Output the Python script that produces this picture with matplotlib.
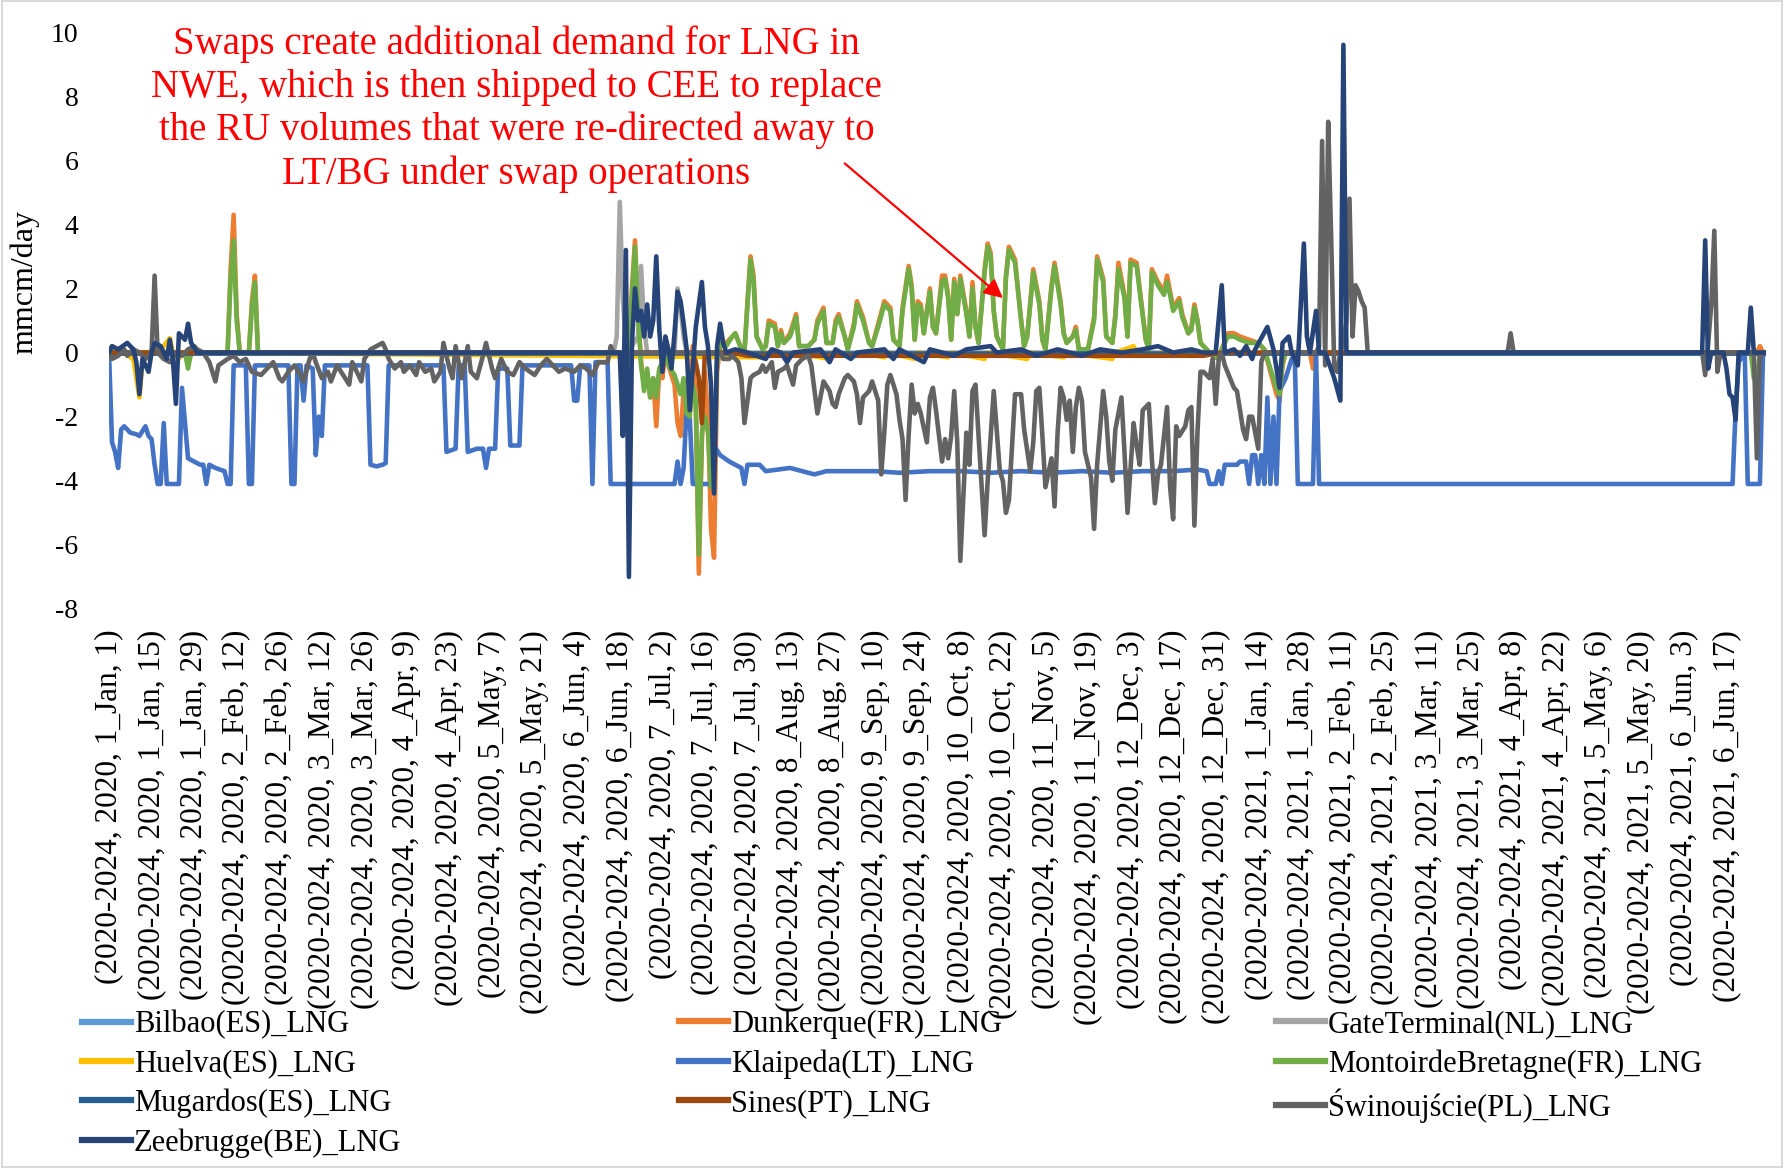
import numpy as np
import pandas as pd
import matplotlib
matplotlib.use('Agg')
import matplotlib.pyplot as plt
from matplotlib.lines import Line2D
from matplotlib.patches import Rectangle

# daily index: 0 = 1 Jan 2020 ... 545 = 30 Jun 2021 (29 Feb is missing in the source)
DATES = pd.date_range('2020-01-01', '2021-06-30')
DATES = DATES[~((DATES.month == 2) & (DATES.day == 29))]
TICK_STEP = 14

# (day index, mmcm/day)
BILBAO = [(0, 0), (545, 0)]
MUGARDOS = [(0, 0), (545, 0)]

DUNKERQUE = [(0, 0), (25, 0), (26, -0.4), (27, 0), (39, 0), (40, 2.6), (41, 4.3), (42, 1.2), (43, 0), (46, 0),
             (47, 1.6), (48, 2.4), (49, 0), (170, 0), (171, -0.3), (172, 2.0), (173, 3.5), (174, 1.3), (175, -0.3),
             (176, -1.0), (177, -0.6), (178, -1.4), (179, -0.8), (180, -2.3), (181, -0.5), (182, -0.8), (183, 0),
             (184, -0.4), (186, -1.0), (187, -2.2), (188, -2.6), (189, -1.2), (190, -2.0), (192, 0.2), (193, -1.7),
             (194, -6.9), (195, -2.8), (196, -0.6), (197, -2.0), (198, -5.5), (199, -6.4), (200, -0.6), (201, 0.2),
             (203, 0.3), (205, 0.5), (206, 0.6), (208, 0.1), (209, 0), (210, 1.6), (211, 3.0), (212, 2.4),
             (213, 0.5), (215, 0.1), (216, 0.2), (217, 1.0), (219, 0.9), (220, 0.2), (221, 0.7), (222, 0.3),
             (224, 0.6), (226, 1.2), (227, 0.2), (230, 0.2), (232, 0.4), (233, 1.0), (235, 1.4), (236, 0.3),
             (238, 0.3), (239, 1.0), (240, 1.2), (242, 0.5), (243, 0.1), (245, 0.9), (246, 1.6), (248, 1.1),
             (250, 0.3), (251, 0.2), (253, 0.9), (255, 1.6), (257, 1.4), (258, 0.4), (260, 0.2), (261, 1.4),
             (263, 2.7), (264, 2.1), (265, 0.4), (266, 1.6), (267, 1.5), (268, 0.6), (270, 2.0), (271, 0.8),
             (272, 0.6), (274, 2.4), (275, 2.4), (276, 1.8), (277, 0.4), (278, 2.3), (279, 1.2), (280, 2.4),
             (282, 1.3), (283, 0.5), (284, 2.2), (285, 0.8), (286, 0.3), (288, 2.6), (289, 3.4), (290, 3.1),
             (291, 1.3), (292, 0.5), (294, 0.1), (295, 2.4), (296, 3.3), (298, 2.9), (300, 1.0), (301, 0.2),
             (302, 0.5), (304, 2.6), (306, 1.6), (307, 0.4), (308, 0.1), (310, 2.1), (311, 2.8), (313, 1.6),
             (314, 0.6), (315, 0.3), (317, 0.5), (318, 0.8), (319, 0.1), (322, 0.1), (324, 1.1), (325, 3.0),
             (327, 2.3), (328, 0.5), (330, 0.3), (331, 1.2), (332, 2.8), (334, 1.8), (335, 0.5), (336, 2.9),
             (338, 2.8), (339, 2.0), (341, 0.4), (342, 0.1), (343, 2.6), (345, 2.2), (347, 1.9), (348, 2.4),
             (349, 1.9), (350, 1.4), (352, 1.7), (353, 1.2), (355, 0.6), (356, 0.8), (357, 1.5), (358, 1.0),
             (359, 0.3), (361, 0.1), (363, -0.1), (365, -0.2), (366, 0.1), (368, 0.6), (370, 0.6), (372, 0.5),
             (375, 0.4), (378, 0.3), (380, 0.1), (382, -0.6), (384, -1.3), (385, -1.5), (386, -0.4), (387, 0),
             (395, 0), (396, -0.5), (397, 0), (542, 0), (543, 0.2), (544, 0), (545, 0)]

GATE = [(0, 0), (166, 0), (167, 0.5), (168, 4.7), (169, 1.7), (170, 0.3), (171, 1.0), (172, 0.2), (174, 0.5),
        (175, 2.7), (176, 0.8), (177, 0), (186, 0), (187, 2.0), (188, 1.4), (189, 0.5), (190, 0), (545, 0)]

HUELVA = [(0, 0), (1, 0.2), (3, 0.1), (8, -0.2), (9, -0.8), (10, -1.4), (11, -0.3), (13, 0), (18, 0.2),
          (20, 0.45), (21, 0), (23, -0.2), (24, 0), (215, -0.15), (216, 0), (224, -0.15), (225, 0), (237, -0.2),
          (238, 0), (246, -0.1), (247, 0), (255, -0.15), (256, 0), (265, -0.2), (266, 0), (276, -0.15), (277, 0),
          (288, -0.2), (289, 0), (302, -0.2), (303, 0), (314, -0.15), (315, 0), (330, -0.2), (331, 0),
          (337, 0.2), (338, 0), (345, -0.1), (346, 0), (545, 0)]

KLAIPEDA = [(0, 0), (1, -2.8), (2, -3.1), (3, -3.6), (4, -2.4), (5, -2.3), (7, -2.5), (9, -2.55), (10, -2.6),
            (12, -2.3), (13, -2.6), (14, -2.7), (15, -3.5), (16, -4.1), (17, -4.1), (18, -2.2), (19, -4.1),
            (23, -4.1), (24, -1.1), (25, -2.2), (26, -3.3), (28, -3.4), (30, -3.5), (31, -3.5), (32, -4.1),
            (33, -3.5), (35, -3.6), (38, -3.7), (39, -4.1), (40, -4.1), (41, -0.4), (45, -0.4), (46, -4.1),
            (47, -4.1), (48, -0.4), (59, -0.4), (60, -4.1), (61, -4.1), (62, -0.4), (63, -0.4), (64, -1.5),
            (65, -0.4), (67, -0.5), (68, -3.2), (69, -2.0), (70, -2.6), (71, -0.4), (85, -0.4), (86, -3.5),
            (88, -3.55), (90, -3.5), (91, -3.45), (92, -0.4), (110, -0.4), (111, -3.1), (114, -3.0), (115, -0.4),
            (117, -0.4), (118, -3.1), (121, -3.0), (123, -3.0), (124, -3.6), (125, -3.0), (127, -3.0),
            (128, -0.5), (131, -0.5), (132, -2.9), (135, -2.9), (136, -0.4), (152, -0.4), (153, -1.5),
            (154, -1.5), (155, -0.4), (158, -0.4), (159, -4.1), (160, -0.3), (164, -0.3), (165, -4.1),
            (186, -4.1), (187, -3.4), (188, -4.1), (189, -3.6), (190, -1.7), (191, -2.0), (192, -4.1),
            (198, -4.1), (199, -2.9), (201, -3.2), (204, -3.4), (206, -3.5), (208, -3.6), (209, -4.1),
            (210, -3.5), (214, -3.5), (216, -3.7), (220, -3.65), (224, -3.6), (228, -3.7), (232, -3.8),
            (236, -3.7), (244, -3.7), (252, -3.7), (260, -3.75), (270, -3.7), (280, -3.7), (290, -3.75),
            (300, -3.7), (310, -3.75), (320, -3.7), (330, -3.75), (340, -3.7), (350, -3.7), (358, -3.65),
            (361, -3.7), (362, -4.1), (364, -4.1), (365, -3.7), (366, -4.1), (367, -3.5), (371, -3.5),
            (372, -3.4), (374, -3.4), (375, -4.1), (376, -3.2), (377, -3.2), (378, -4.1), (379, -3.2),
            (380, -4.1), (381, -1.4), (382, -4.1), (383, -2.0), (384, -4.1), (385, -1.2), (387, -0.8),
            (389, -0.2), (390, -0.1), (391, -4.1), (396, -4.1), (397, 0), (398, -4.1), (534, -4.1),
            (535, -1.8), (536, -0.3), (538, 0), (539, -4.1), (543, -4.1), (544, -0.1), (545, 0)]

MONTOIR = [(0, 0), (25, 0), (26, -0.5), (27, 0), (39, 0), (40, 2.3), (41, 3.5), (42, 1.0), (43, 0), (46, 0),
           (47, 1.4), (48, 2.2), (49, 0), (170, 0), (171, -0.3), (172, 1.8), (173, 3.3), (174, 1.2), (175, -0.4),
           (176, -1.2), (177, -0.5), (178, -1.4), (179, -0.8), (180, -1.4), (181, -0.5), (182, -0.3), (183, 0),
           (184, -0.4), (186, -0.7), (187, -1.0), (188, -1.3), (189, -0.8), (190, -1.9), (191, -2.0), (192, -1.0),
           (193, -1.5), (194, -6.3), (195, -2.5), (196, -2.0), (197, -2.5), (198, -4.2), (199, -3.0), (200, -0.3),
           (201, 0.3), (203, 0.2), (205, 0.5), (206, 0.6), (208, 0.1), (209, 0), (210, 1.5), (211, 2.9),
           (212, 2.2), (213, 0.5), (215, 0.1), (216, 0.2), (217, 0.9), (219, 0.8), (220, 0.2), (221, 0.6),
           (222, 0.3), (224, 0.5), (226, 1.1), (227, 0.2), (230, 0.2), (232, 0.4), (233, 0.9), (235, 1.3),
           (236, 0.3), (238, 0.3), (239, 0.9), (240, 1.1), (242, 0.5), (243, 0.1), (245, 0.8), (246, 1.5),
           (248, 1.0), (250, 0.3), (251, 0.2), (253, 0.8), (255, 1.5), (257, 1.3), (258, 0.4), (260, 0.2),
           (261, 1.3), (263, 2.6), (264, 2.0), (265, 0.4), (266, 1.5), (267, 1.4), (268, 0.6), (270, 1.9),
           (271, 0.8), (272, 0.6), (274, 2.2), (275, 2.3), (276, 1.7), (277, 0.4), (278, 2.2), (279, 1.2),
           (280, 2.3), (282, 1.2), (283, 0.5), (284, 2.0), (285, 0.8), (286, 0.3), (288, 2.5), (289, 3.3),
           (290, 3.0), (291, 1.3), (292, 0.5), (294, 0.1), (295, 2.3), (296, 3.2), (298, 2.8), (300, 1.0),
           (301, 0.2), (302, 0.5), (304, 2.5), (306, 1.5), (307, 0.4), (308, 0.1), (310, 2.0), (311, 2.7),
           (313, 1.5), (314, 0.6), (315, 0.3), (317, 0.5), (318, 0.7), (319, 0.1), (322, 0.1), (324, 1.0),
           (325, 2.9), (327, 2.2), (328, 0.5), (330, 0.3), (331, 1.1), (332, 2.6), (334, 1.7), (335, 0.5),
           (336, 2.8), (338, 2.7), (339, 1.9), (341, 0.4), (342, 0.1), (343, 2.5), (345, 2.1), (347, 1.8),
           (348, 2.2), (349, 1.8), (350, 1.3), (352, 1.6), (353, 1.1), (355, 0.6), (356, 0.7), (357, 1.4),
           (358, 1.0), (359, 0.3), (361, 0.1), (363, -0.1), (365, -0.2), (366, 0.1), (368, 0.5), (370, 0.5),
           (372, 0.4), (375, 0.3), (378, 0.3), (380, 0.1), (382, -0.5), (384, -1.1), (385, -1.3), (386, -0.3),
           (387, 0), (540, 0), (541, -0.8), (542, -0.8), (543, 0), (545, 0)]

SINES = [(0, 0), (192, 0), (193, -0.3), (194, -0.8), (195, -2.2), (196, 0), (205, 0), (210, -0.1), (360, -0.1),
         (366, 0), (545, 0)]

SWINOUJSCIE = [(0, 0), (1, -0.2), (3, -0.1), (5, 0.1), (6, -0.1), (8, 0.1), (10, 0), (12, -0.2), (14, 0),
               (15, 2.4), (16, 0), (18, -0.2), (20, -0.3), (22, 0), (24, -0.1), (26, 0.1), (28, 0.2), (29, 0.1),
               (31, 0), (33, -0.3), (35, -0.9), (36, -0.4), (39, -0.2), (41, -0.1), (43, -0.3), (45, -0.2),
               (47, -0.6), (50, -0.7), (52, -0.5), (54, -0.3), (56, -0.8), (57, -0.9), (59, -0.6), (61, -0.4),
               (63, -0.7), (64, -0.9), (66, -0.2), (67, 0.0), (68, -0.3), (70, -0.8), (72, -0.6), (73, -0.9),
               (75, -0.4), (77, -0.7), (79, -1.0), (80, -0.3), (82, -0.7), (83, -0.9), (84, -0.2), (86, 0.1),
               (88, 0.2), (90, 0.3), (91, 0.1), (92, -0.2), (94, -0.5), (96, -0.3), (97, -0.6), (99, -0.4),
               (101, -0.7), (102, -0.3), (104, -0.6), (106, -0.5), (107, -0.9), (109, -0.6), (110, 0.3),
               (112, -0.5), (113, -0.8), (114, 0.2), (116, -0.8), (118, 0.2), (119, -0.6), (121, -0.8),
               (123, -0.1), (124, 0.3), (126, -0.5), (127, -0.8), (129, -0.2), (131, -0.6), (133, -0.7),
               (135, -0.3), (137, -0.5), (140, -0.7), (142, -0.4), (144, -0.2), (146, -0.4), (148, -0.6),
               (150, -0.5), (153, -0.6), (155, -0.4), (157, -0.5), (159, -0.7), (161, -0.3), (164, -0.3),
               (165, 0.2), (166, 0), (201, 0), (202, -0.2), (204, -0.2), (205, -0.1), (207, -0.3), (208, -0.8),
               (209, -2.2), (211, -0.8), (212, -0.7), (214, -0.6), (215, -0.4), (216, -0.6), (218, -0.3),
               (219, -1.1), (220, -0.6), (222, -0.5), (223, -0.4), (225, -1.0), (226, -0.4), (228, -0.2),
               (230, -0.1), (231, -0.4), (233, -1.9), (235, -0.9), (237, -1.2), (238, -1.6), (239, -1.7),
               (240, -1.3), (242, -0.8), (243, -0.7), (245, -0.9), (246, -1.3), (247, -2.2), (248, -1.4),
               (250, -1.2), (251, -0.9), (253, -1.5), (254, -3.8), (255, -2.5), (256, -1.0), (257, -0.7),
               (259, -1.3), (260, -2.1), (261, -2.7), (262, -4.6), (263, -2.6), (264, -1.0), (265, -1.9),
               (266, -1.6), (267, -1.9), (269, -2.8), (270, -1.4), (271, -1.1), (272, -1.8), (273, -2.6),
               (274, -3.4), (275, -2.7), (276, -3.3), (277, -2.6), (278, -1.2), (279, -2.8), (280, -6.5),
               (282, -2.5), (283, -3.5), (284, -1.2), (285, -1.0), (286, -2.6), (288, -5.7), (289, -4.0),
               (291, -1.2), (293, -3.7), (294, -4.0), (295, -5.0), (296, -4.6), (298, -1.3), (300, -1.3),
               (301, -2.4), (303, -3.7), (304, -2.8), (305, -1.2), (306, -1.1), (307, -2.6), (308, -4.2),
               (310, -3.3), (311, -4.8), (312, -2.5), (313, -1.1), (314, -1.4), (315, -2.1), (316, -1.5),
               (317, -3.1), (318, -1.7), (319, -1.1), (320, -1.5), (321, -3.1), (323, -3.9), (324, -5.5),
               (325, -3.5), (327, -1.2), (328, -2.0), (329, -3.4), (330, -4.0), (331, -2.4), (333, -1.4),
               (334, -3.1), (335, -5.0), (336, -3.6), (337, -2.2), (338, -2.9), (339, -3.5), (340, -1.8),
               (342, -1.6), (343, -3.3), (344, -4.7), (345, -3.8), (346, -3.5), (348, -1.7), (349, -4.2),
               (350, -5.2), (351, -2.3), (352, -2.6), (354, -2.3), (355, -1.8), (356, -1.7), (357, -5.4),
               (358, -2.5), (359, -0.6), (360, -0.6), (362, -0.8), (363, -0.2), (364, -1.6), (365, -0.2),
               (366, 0), (367, -0.4), (370, -1.1), (371, -1.2), (373, -2.4), (374, -2.7), (375, -2.0),
               (376, -2.0), (378, -3.0), (379, -0.3), (380, 0), (397, 0), (398, 0.2), (399, 6.6), (400, -0.4),
               (401, 7.2), (402, 3.5), (403, -0.5), (404, -0.6), (405, 0), (406, 0.3), (407, 1.0), (408, 4.8),
               (409, 0.5), (410, 2.1), (411, 1.9), (412, 1.6), (413, 1.4), (414, 0), (460, 0), (461, 0.6),
               (462, 0), (524, 0), (525, -0.7), (526, 0.3), (527, 1.5), (528, 3.8), (529, -0.6), (530, 0),
               (541, 0), (542, -3.3), (543, -0.1), (545, 0)]

ZEEBRUGGE = [(0, 0), (1, 0.2), (3, 0.1), (6, 0.3), (8, 0.1), (9, -0.3), (10, -1.3), (11, -0.2), (13, -0.6),
             (14, 0), (15, 0.3), (17, 0.2), (19, -0.2), (20, 0.4), (21, -0.2), (22, -1.6), (23, 0.6), (25, 0.4),
             (26, 0.9), (27, 0.3), (29, 0), (168, 0), (169, -2.6), (170, 3.2), (171, -7.0), (172, 0.3),
             (173, 2.0), (174, 1.0), (175, 1.3), (176, 0.5), (177, 1.5), (178, 0.5), (179, 1.0), (180, 3.0),
             (181, 0.7), (182, -0.6), (183, 0.5), (184, 0.1), (185, -0.5), (186, 0.6), (187, 1.9), (188, 1.6),
             (189, 0.9), (190, 0.1), (191, -1.8), (192, -0.5), (193, 0.8), (195, 2.2), (196, 0.8), (197, 0.2),
             (198, -1.0), (199, -4.4), (200, 0.2), (201, 0.9), (202, 0.3), (203, 0), (206, 0.1), (210, 0),
             (216, -0.2), (218, 0.1), (221, 0), (223, -0.3), (225, 0), (234, 0.1), (237, -0.3), (239, 0.1),
             (244, -0.2), (246, 0), (255, 0.1), (258, -0.2), (260, 0.1), (268, -0.3), (270, 0.1), (278, -0.1),
             (282, 0.1), (290, 0.2), (292, 0), (300, 0.1), (305, -0.1), (312, 0.1), (320, -0.1), (326, 0.1),
             (333, 0), (340, 0.1), (345, 0.2), (350, 0), (356, 0.1), (360, 0), (364, 0), (366, 2.1), (367, 0),
             (370, 0.1), (372, -0.1), (374, 0.2), (376, -0.2), (377, 0.1), (381, 0.8), (383, 0.1), (385, -1.1),
             (386, 0.3), (388, 0.5), (389, 0), (391, -0.4), (393, 3.4), (394, 0.5), (395, 0), (397, 1.3),
             (398, 0), (400, 0), (403, -0.8), (405, -1.5), (406, 9.6), (407, 0), (524, 0), (525, 3.5),
             (526, -0.5), (527, 0), (531, 0), (532, -0.5), (533, -1.3), (534, -1.4), (535, -2.1), (536, 0),
             (539, 0), (540, 1.4), (541, 0), (545, 0)]

SERIES = [
    ('Bilbao(ES)_LNG', BILBAO, '#5B9BD5'),
    ('Dunkerque(FR)_LNG', DUNKERQUE, '#ED7D31'),
    ('GateTerminal(NL)_LNG', GATE, '#A5A5A5'),
    ('Huelva(ES)_LNG', HUELVA, '#FFC000'),
    ('Klaipeda(LT)_LNG', KLAIPEDA, '#4472C4'),
    ('MontoirdeBretagne(FR)_LNG', MONTOIR, '#70AD47'),
    ('Mugardos(ES)_LNG', MUGARDOS, '#255E91'),
    ('Sines(PT)_LNG', SINES, '#9E480E'),
    ('Świnoujście(PL)_LNG', SWINOUJSCIE, '#636363'),
    ('Zeebrugge(BE)_LNG', ZEEBRUGGE, '#264478'),
]

NOTE = ('Swaps create additional demand for LNG in\n'
        'NWE, which is then shipped to CEE to replace\n'
        'the RU volumes that were re-directed away to\n'
        'LT/BG under swap operations')

SERIF = ['Liberation Serif', 'DejaVu Serif']
plt.rcParams['font.family'] = SERIF
plt.rcParams['axes.unicode_minus'] = False

W, H = 1784, 1168
fig = plt.figure(figsize=(W / 100, H / 100), dpi=100)
fig.patch.set_facecolor('white')
ax = fig.add_axes([109 / W, 1 - 609 / H, (1766 - 109) / W, (609 - 32) / H])

LW = 3.3
handles = {}
for name, pts, color in SERIES:
    d, v = zip(*pts)
    ln, = ax.plot(d, v, color=color, lw=LW, solid_joinstyle='round', solid_capstyle='round')
    handles[name] = ln

ax.set_xlim(0, len(DATES) - 1)
ax.set_ylim(-8, 10)
ax.set_yticks(np.arange(-8, 11, 2))
ax.tick_params(axis='y', length=0, labelsize=20, pad=22)

tick_idx = list(range(0, len(DATES) - 13, TICK_STEP))
tick_lab = ['(2020-2024, {}, {}_{}, {})'.format(DATES[i].year, DATES[i].month, DATES[i].strftime('%b'), DATES[i].day)
            for i in tick_idx]
ax.set_xticks(tick_idx)
ax.set_xticklabels(tick_lab, rotation=90, fontsize=22.5)
ax.tick_params(axis='x', length=0, pad=15)
for s in ax.spines.values():
    s.set_visible(False)

fig.text(25 / W, 1 - 282 / H, 'mmcm/day', rotation=90, ha='center', va='center', fontsize=23)

ax.text(134, 7.6, NOTE, color='red', ha='center', va='center', fontsize=28, linespacing=1.2)
ax.annotate('', xy=(294, 1.7), xytext=(242, 5.9),
            arrowprops=dict(arrowstyle='-|>', color='red', lw=1.6, mutation_scale=28, shrinkA=0, shrinkB=0))

# legend: three columns placed like the source
cols = [
    (82, ['Bilbao(ES)_LNG', 'Huelva(ES)_LNG', 'Mugardos(ES)_LNG', 'Zeebrugge(BE)_LNG']),
    (679, ['Dunkerque(FR)_LNG', 'Klaipeda(LT)_LNG', 'Sines(PT)_LNG']),
    (1276, ['GateTerminal(NL)_LNG', 'MontoirdeBretagne(FR)_LNG', 'Świnoujście(PL)_LNG']),
]
for x0, names in cols:
    hs = [Line2D([], [], color=handles[n].get_color(), lw=4.5) for n in names]
    fig.legend(hs, names, loc='upper left', bbox_to_anchor=(x0 / W, 1 - 1010 / H), frameon=False,
               fontsize=22, handlelength=1.6, handletextpad=0.1, labelspacing=0.33, borderpad=0, borderaxespad=0)

fig.add_artist(Rectangle((0.001, 0.001), 0.998, 0.998, transform=fig.transFigure, fill=False,
                         edgecolor='#d9d9d9', lw=1.5))

fig.savefig('out.png', dpi=100)
